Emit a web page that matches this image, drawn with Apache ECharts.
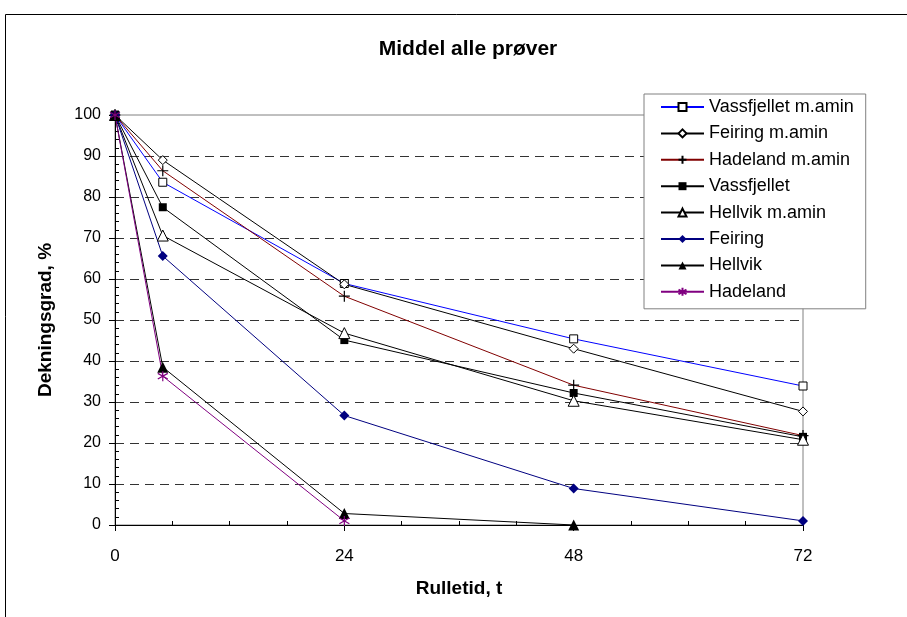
<!DOCTYPE html>
<html>
<head>
<meta charset="utf-8">
<title>Middel alle prøver</title>
<script src="https://cdn.jsdelivr.net/npm/echarts@6/dist/echarts.min.js"></script>
<style>
  html, body { margin: 0; padding: 0; background: #fff; }
  #chart { width: 907px; height: 617px; }
</style>
</head>
<body>
<div id="chart"></div>
<script>
// Rolling time (hours) at which coverage was measured
const hours = [0, 5, 24, 48, 72];
const xTicks = [0, 24, 48, 72];

// Coverage (Dekningsgrad, %) per sample series
const vassfjelletAmin = [100, 83.6, 58.9, 45.4, 33.9];
const feiringAmin     = [100, 89.0, 58.7, 43.0, 27.7];
const hadelandAmin    = [100, 86.4, 55.8, 34.1, 21.8];
const vassfjellet     = [100, 77.5, 45.1, 32.2, 21.5];
const hellvikAmin     = [100, 70.6, 46.8, 30.3, 20.8];
const feiring         = [100, 65.6, 26.7, 8.9, 1.0];
const hellvik         = [100, 38.5, 2.8, 0];
const hadeland        = [100, 36.3, 1.0];

const FONT = '"Liberation Sans", Arial, sans-serif';

function pairs(values) {
  return values.map((v, i) => [hours[i], v]);
}

const plusPath = 'path://M5 0V10M0 5H10';
const starPath = 'path://M5 0V10M0.8 2.2L9.2 7.8M9.2 2.2L0.8 7.8';

function series(name, values, lineColor, symbol, size, fill, stroke, strokeWidth) {
  return {
    name: name,
    type: 'line',
    data: pairs(values),
    xAxisIndex: 0,
    yAxisIndex: 0,
    symbol: symbol,
    symbolSize: size,
    showAllSymbol: true,
    lineStyle: { color: lineColor, width: 1 },
    itemStyle: { color: fill, borderColor: stroke, borderWidth: strokeWidth },
    emphasis: { disabled: true },
    z: 3
  };
}

const chart = echarts.init(document.getElementById('chart'), null, { renderer: 'canvas' });

chart.setOption({
  animation: false,
  backgroundColor: '#fff',
  textStyle: { fontFamily: FONT },
  title: {
    text: 'Middel alle prøver',
    left: 463,
    top: 34,
    textAlign: 'center',
    textStyle: { fontFamily: FONT, fontSize: 21, fontWeight: 'bold', color: '#000' }
  },
  graphic: [{
    type: 'rect',
    silent: true,
    z: -10,
    shape: { x: 5.5, y: 14.5, width: 1000, height: 1000 },
    style: { fill: 'none', stroke: '#000', lineWidth: 1 }
  }],
  legend: {
    orient: 'vertical',
    left: 644,
    top: 94,
    padding: [4, 12, 8, 16],
    itemWidth: 43,
    itemHeight: 10,
    itemGap: 8.4,
    backgroundColor: '#fff',
    borderColor: '#808080',
    borderWidth: 1,
    borderRadius: 0,
    selectedMode: false,
    textStyle: { fontFamily: FONT, fontSize: 18, color: '#000', lineHeight: 18 },
    data: ['Vassfjellet m.amin', 'Feiring m.amin', 'Hadeland m.amin', 'Vassfjellet',
           'Hellvik m.amin', 'Feiring', 'Hellvik', 'Hadeland']
  },
  grid: {
    left: 115,
    right: 104,
    top: 115,
    bottom: 92,
    show: true,
    borderColor: '#808080',
    borderWidth: 1,
    backgroundColor: 'transparent'
  },
  xAxis: [{
    type: 'value',
    position: 'bottom',
    min: xTicks[0],
    max: xTicks[xTicks.length - 1],
    interval: 24,
    name: 'Rulletid, t',
    nameLocation: 'middle',
    nameGap: 54,
    nameTextStyle: { fontFamily: FONT, fontSize: 19, fontWeight: 'bold', color: '#000' },
    axisLine: { show: true, lineStyle: { color: '#000', width: 1 } },
    axisTick: { show: true, length: 6, lineStyle: { color: '#000' } },
    axisLabel: { margin: 23, fontFamily: FONT, fontSize: 17, color: '#000' },
    splitLine: { show: false }
  }, {
    // companion axis carrying the inward minor ticks
    type: 'value',
    position: 'bottom',
    min: xTicks[0],
    max: xTicks[xTicks.length - 1],
    interval: 24,
    axisLine: { show: false },
    axisTick: { show: false, inside: true },
    minorTick: { show: true, splitNumber: 4, length: 4, lineStyle: { color: '#000' } },
    axisLabel: { show: false },
    splitLine: { show: false }
  }],
  yAxis: [{
    type: 'value',
    position: 'left',
    min: 0,
    max: 100,
    interval: 10,
    name: 'Dekningsgrad, %',
    nameLocation: 'middle',
    nameRotate: 90,
    nameGap: 60,
    nameTextStyle: { fontFamily: FONT, fontSize: 19, fontWeight: 'bold', color: '#000' },
    axisLine: { show: true, lineStyle: { color: '#000', width: 1 } },
    axisTick: { show: true, length: 6, lineStyle: { color: '#000' } },
    axisLabel: { margin: 14, fontFamily: FONT, fontSize: 16, color: '#000' },
    splitLine: {
      show: true,
      showMinLine: false,
      showMaxLine: false,
      lineStyle: { color: '#333', width: 1, type: [9, 6] }
    }
  }, {
    type: 'value',
    position: 'left',
    min: 0,
    max: 100,
    interval: 10,
    axisLine: { show: false },
    axisTick: { show: false, inside: true },
    minorTick: { show: true, splitNumber: 5, length: 4, lineStyle: { color: '#000' } },
    axisLabel: { show: false },
    splitLine: { show: false }
  }],
  series: [
    series('Vassfjellet m.amin', vassfjelletAmin, '#0000ff', 'rect', 8, '#fff', '#000', 1),
    series('Feiring m.amin', feiringAmin, '#000', 'diamond', 9, '#fff', '#000', 1),
    series('Hadeland m.amin', hadelandAmin, '#800000', plusPath, 11, 'none', '#000', 1.2),
    series('Vassfjellet', vassfjellet, '#000', 'rect', 8, '#000', '#000', 0),
    series('Hellvik m.amin', hellvikAmin, '#000', 'triangle', 11, '#fff', '#000', 1),
    series('Feiring', feiring, '#000080', 'diamond', 10, '#000080', '#000080', 0),
    series('Hellvik', hellvik, '#000', 'triangle', 11, '#000', '#000', 0),
    series('Hadeland', hadeland, '#800080', starPath, 10, 'none', '#800080', 1.2)
  ]
});
</script>
</body>
</html>
